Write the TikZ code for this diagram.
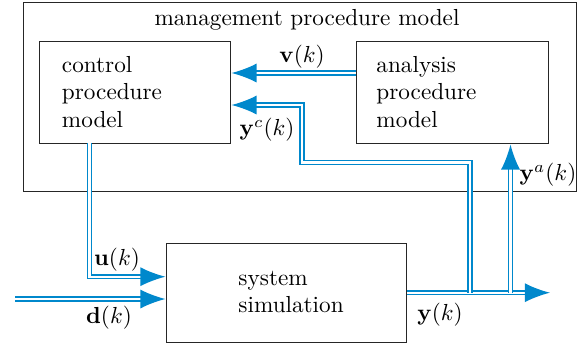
\documentclass[tikz,border=0pt]{standalone}
\usetikzlibrary{arrows.meta}
\definecolor{sigblue}{RGB}{0,136,204}
\def\px{0.431pt}
\begin{document}
\begin{tikzpicture}[x=0.431pt,y=-0.431pt,
  blk/.style={draw=black!85, line width=0.5pt, inner sep=0pt},
  sig/.style={draw=sigblue, line width=0.7pt, double=white, double distance=1.0pt},
  sigarrow/.style={sig, -{Latex[length=10.8pt,width=8.2pt]}},
  txt/.style={inner sep=0pt, align=left, anchor=west},
  lbl/.style={inner sep=0pt}]
\useasboundingbox (0,0) rectangle (583,348);
% boxes
\node[blk, anchor=north west, minimum width=238.47pt, minimum height=81.46pt] (outer) at (22.7,2) {};
\node[blk, anchor=north west, minimum width=82.58pt, minimum height=44.22pt] (ctrl) at (38.7,40.7) {};
\node[blk, anchor=north west, minimum width=82.62pt, minimum height=43.96pt] (ana) at (356,41.3) {};
\node[blk, anchor=north west, minimum width=103.53pt, minimum height=42.67pt] (sys) at (165.5,242.7) {};
% texts
\node[lbl] (title) at (307,20) {management procedure model};
\node[txt] (ctrltxt) at (61.5,92) {control\\procedure\\model};
\node[txt] (anatxt) at (376,92) {analysis\\procedure\\model};
\node[txt] (systxt) at (238,292) {system\\simulation};
% coordinates
\coordinate (yend) at (550,292.7);
\coordinate (j1) at (470,292.7);
\coordinate (j2) at (510.5,292.7);
\coordinate (b1) at (302,162.5);
\coordinate (din) at (15,299);
\coordinate (uout) at (89.5,143.3);
\coordinate (vy) at (0,73);
\coordinate (ycy) at (0,105);
\coordinate (uy) at (0,276.7);
% connectors
\draw[sigarrow] (sys.east |- yend) -- (yend);
\draw[sigarrow] (ana.west |- vy) -- (ctrl.east |- vy);
\draw[sigarrow] (j1) |- (b1) |- (ctrl.east |- ycy);
\draw[sigarrow] (j2) -- (j2 |- ana.south);
\draw[sigarrow] (uout) |- (sys.west |- uy);
\draw[sigarrow] (din) -- (din -| sys.west);
% labels
\node[lbl] (vl) at (302,57) {$\mathbf{v}(k)$};
\node[lbl] (ycl) at (267,130) {$\mathbf{y}^c(k)$};
\node[lbl] (yal) at (548,175) {$\mathbf{y}^a(k)$};
\node[lbl] (ul) at (117,260) {$\mathbf{u}(k)$};
\node[lbl] (dl) at (109,318) {$\mathbf{d}(k)$};
\node[lbl] (yl) at (440,315) {$\mathbf{y}(k)$};
\end{tikzpicture}
\end{document}
